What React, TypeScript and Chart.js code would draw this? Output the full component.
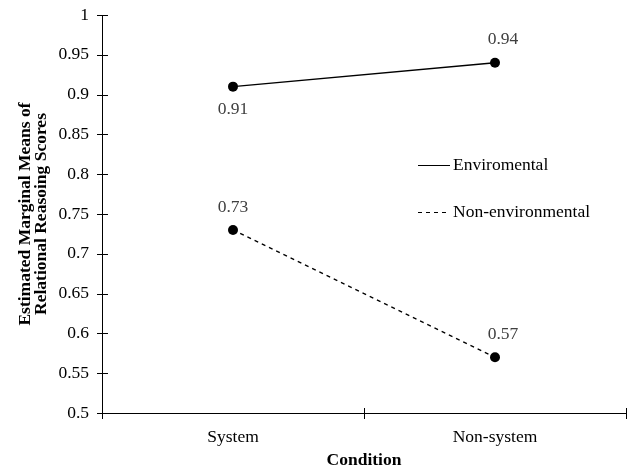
import React, { useEffect, useRef } from "react";
import { Chart, registerables } from "chart.js";

Chart.register(...registerables);

const categories = ["System", "Non-system"];
const seriesNames = ["Enviromental", "Non-environmental"];
const environmental = [0.91, 0.94];
const nonEnvironmental = [0.73, 0.57];
const yTicks = [0.5, 0.55, 0.6, 0.65, 0.7, 0.75, 0.8, 0.85, 0.9, 0.95, 1];
const yTitle = ["Estimated Marginal Means of", "Relational Reasoing Scores"];
const xTitle = "Condition";

const SERIF = "'Liberation Serif', 'Times New Roman', serif";
const FS = 17.5;

const crossTicks = {
  id: "crossTicks",
  afterDraw(chart: any) {
    const { ctx } = chart;
    const x = chart.scales.x;
    const y = chart.scales.y;
    ctx.save();
    ctx.strokeStyle = "#000";
    ctx.lineWidth = 1;
    ctx.beginPath();
    for (const v of yTicks) {
      const py = Math.round(y.getPixelForValue(v)) + 0.5;
      ctx.moveTo(x.left - 5, py);
      ctx.lineTo(x.left + 6, py);
    }
    const bounds: number[] = [x.left];
    for (let i = 0; i < categories.length - 1; i++) {
      bounds.push((x.getPixelForValue(i) + x.getPixelForValue(i + 1)) / 2);
    }
    bounds.push(x.right);
    for (const b of bounds) {
      const px = Math.round(b) + 0.5;
      ctx.moveTo(px, y.bottom - 5);
      ctx.lineTo(px, y.bottom + 6);
    }
    ctx.stroke();
    ctx.restore();
  },
};

const valueLabels = {
  id: "valueLabels",
  afterDatasetsDraw(chart: any) {
    const { ctx } = chart;
    ctx.save();
    ctx.font = `${FS}px ${SERIF}`;
    ctx.fillStyle = "#404040";
    ctx.textAlign = "center";
    ctx.textBaseline = "middle";
    chart.data.datasets.forEach((ds: any, di: number) => {
      const meta = chart.getDatasetMeta(di);
      meta.data.forEach((pt: any, i: number) => {
        const below = ds.labelPos && ds.labelPos[i] === "below";
        const dx = i === 0 ? 0 : 8;
        const dy = below ? 23 : -23;
        ctx.fillText(String(ds.data[i]), pt.x + dx, pt.y + dy);
      });
    });
    ctx.restore();
  },
};

const lineLegend = {
  id: "lineLegend",
  afterDraw(chart: any) {
    const { ctx, chartArea } = chart;
    ctx.save();
    ctx.font = `${FS}px ${SERIF}`;
    ctx.fillStyle = "#000";
    ctx.textBaseline = "middle";
    ctx.textAlign = "left";
    const x0 = chartArea.left + 316;
    const rows = [chartArea.top + 150, chartArea.top + 197];
    chart.data.datasets.forEach((ds: any, i: number) => {
      const yy = rows[i] + 0.5;
      ctx.strokeStyle = "#000";
      ctx.lineWidth = 1;
      ctx.setLineDash(ds.borderDash || []);
      ctx.beginPath();
      ctx.moveTo(x0, yy);
      ctx.lineTo(x0 + 32, yy);
      ctx.stroke();
      ctx.setLineDash([]);
      ctx.fillText(seriesNames[i], x0 + 35, rows[i]);
    });
    ctx.restore();
  },
};

export default function App() {
  const ref = useRef<HTMLCanvasElement>(null);
  useEffect(() => {
    if (!ref.current) return;
    const chart = new Chart(ref.current, {
      type: "line",
      data: {
        labels: categories,
        datasets: [
          {
            label: seriesNames[0],
            data: environmental,
            borderColor: "#000",
            backgroundColor: "#000",
            borderWidth: 1.3,
            pointRadius: 5,
            pointBackgroundColor: "#000",
            pointBorderWidth: 0,
            labelPos: ["below", "above"],
          } as any,
          {
            label: seriesNames[1],
            data: nonEnvironmental,
            borderColor: "#000",
            backgroundColor: "#000",
            borderWidth: 1.3,
            borderDash: [4, 4],
            pointRadius: 5,
            pointBackgroundColor: "#000",
            pointBorderWidth: 0,
            labelPos: ["above", "above"],
          } as any,
        ],
      },
      options: {
        animation: false,
        responsive: false,
        layout: { padding: { top: 15, right: 3, left: 0, bottom: 0 } },
        plugins: { legend: { display: false }, tooltip: { enabled: false } },
        scales: {
          x: {
            type: "category",
            offset: true,
            grid: { display: false, drawTicks: false },
            border: { display: true, color: "#000", width: 1 },
            ticks: {
              color: "#000",
              font: { family: SERIF, size: FS },
              padding: 14,
              maxRotation: 0,
            },
            title: {
              display: true,
              text: xTitle,
              color: "#000",
              font: { family: SERIF, size: FS, weight: "bold", lineHeight: 1.0 },
              padding: { top: 0, bottom: 0 },
            },
            afterFit: (s: any) => {
              s.height = 56;
              s.paddingLeft = 0;
              s.paddingRight = 0;
            },
          },
          y: {
            min: 0.5,
            max: 1,
            grid: { display: false, drawTicks: false },
            border: { display: true, color: "#000", width: 1 },
            afterBuildTicks: (s: any) => {
              s.ticks = yTicks.map((v) => ({ value: v }));
            },
            ticks: {
              color: "#000",
              font: { family: SERIF, size: FS },
              padding: 13,
              callback: (v: any) => String(Number(v)),
            },
            title: {
              display: true,
              text: yTitle,
              color: "#000",
              font: { family: SERIF, size: FS, weight: "bold", lineHeight: 0.92 },
              padding: { top: 17, bottom: 0 },
            },
            afterFit: (s: any) => {
              s.width = 102;
              s.paddingTop = 0;
              s.paddingBottom = 0;
            },
          },
        },
      },
      plugins: [crossTicks, valueLabels, lineLegend],
    });
    return () => chart.destroy();
  }, []);
  return (
    <div style={{ position: "fixed", left: 0, top: 0, width: 631, height: 469, background: "#fff" }}>
      <canvas ref={ref} width={631} height={469} style={{ display: "block" }} />
    </div>
  );
}
